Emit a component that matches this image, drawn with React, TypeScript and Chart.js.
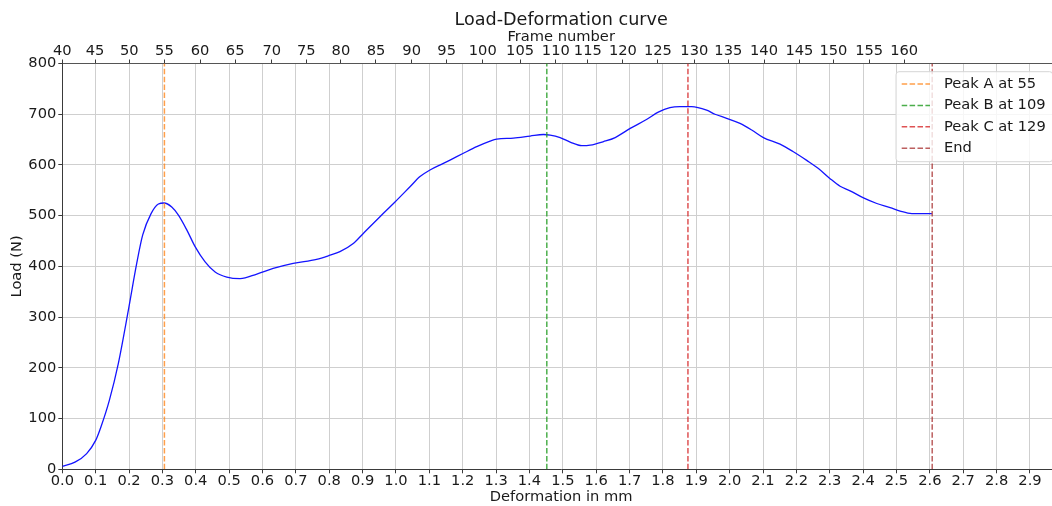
import { useEffect, useRef } from "react";
import { Chart, registerables } from "chart.js";

Chart.register(...registerables);

// Measured load-deformation curve
const deformation = [
  0.0, 0.038, 0.073, 0.1, 0.116, 0.141, 0.168, 0.198, 0.223, 0.241, 0.266, 0.288, 0.305, 0.328,
  0.348, 0.373, 0.398, 0.428, 0.458, 0.493, 0.533, 0.583, 0.632, 0.692, 0.762, 0.802, 0.832,
  0.872, 0.902, 0.952, 0.997, 1.042, 1.072, 1.102, 1.142, 1.172, 1.202, 1.242, 1.282, 1.302,
  1.352, 1.402, 1.442, 1.462, 1.492, 1.522, 1.557, 1.582, 1.622, 1.657, 1.702, 1.752, 1.786,
  1.821, 1.851, 1.886, 1.931, 1.956, 1.991, 2.031, 2.066, 2.101, 2.151, 2.191, 2.231, 2.266,
  2.301, 2.331, 2.361, 2.401, 2.441, 2.481, 2.511, 2.546, 2.606,
];
const load = [
  6, 14, 31, 57, 84, 136, 209, 314, 406, 462, 504, 523, 525, 517,
  501, 472, 439, 409, 389, 379, 376, 385, 396, 406, 414, 422, 429,
  445, 465, 498, 527, 557, 577, 590, 603, 613, 623, 636, 647, 651,
  653, 657, 660, 659, 654, 645, 638, 639, 646, 654, 672, 690, 704,
  713, 715, 715, 708, 700, 692, 682, 669, 654, 641, 626, 609, 593,
  573, 558, 549, 535, 524, 516, 509, 504, 504,
];

// Bottom axis ticks (mm)
const deformationTicks = [
  0.0, 0.1, 0.2, 0.3, 0.4, 0.5, 0.6, 0.7, 0.8, 0.9, 1.0, 1.1, 1.2, 1.3, 1.4,
  1.5, 1.6, 1.7, 1.8, 1.9, 2.0, 2.1, 2.2, 2.3, 2.4, 2.5, 2.6, 2.7, 2.8, 2.9,
];

// Top axis: frame numbers and the deformation at which each frame occurs
const frameTicks = [
  40, 45, 50, 55, 60, 65, 70, 75, 80, 85, 90, 95, 100, 105, 110, 115, 120, 125, 130, 135, 140,
  145, 150, 155, 160,
];
const frameTickDeformation = [
  0.0, 0.098, 0.201, 0.306, 0.413, 0.518, 0.628, 0.731, 0.835, 0.94, 1.047, 1.152, 1.26, 1.372,
  1.479, 1.575, 1.68, 1.785, 1.894, 1.996, 2.103, 2.209, 2.311, 2.418, 2.523,
];

// Marker lines
const peakLabels = ["Peak A at 55", "Peak B at 109", "Peak C at 129", "End"];
const peakDeformation = [0.306, 1.452, 1.875, 2.607];
const peakColors = [
  "rgba(255,127,14,0.75)",
  "rgba(44,160,44,0.85)",
  "rgba(214,39,40,0.8)",
  "rgba(165,42,42,0.75)",
];

const LOAD_MIN = 0;
const LOAD_MAX = 800;
const X_MIN = 0;
const X_MAX = 2.99;

const FONT = "'DejaVu Sans', sans-serif";
const BASE = 14.67;
const TEXT = "#1a1a1a";
const GRID = "#cfcfcf";
const SPINE = "#3a3a3a";
const DASH = [5.5, 2.4];

const titlePlugin = {
  id: "axesTitle",
  afterDraw(chart: any) {
    const { ctx, chartArea } = chart;
    ctx.save();
    ctx.font = `normal 17.6px ${FONT}`;
    ctx.fillStyle = TEXT;
    ctx.textAlign = "center";
    ctx.textBaseline = "middle";
    ctx.fillText("Load-Deformation curve", (chartArea.left + chartArea.right) / 2, 20);
    ctx.restore();
  },
};

const legendPlugin = {
  id: "boxLegend",
  afterDraw(chart: any) {
    const { ctx, chartArea } = chart;
    const right = chartArea.right - 7.3;
    const top = chartArea.top + 8.2;
    const left = right - 156.7;
    const bottom = top + 90;
    const r = 3;
    ctx.save();
    ctx.beginPath();
    ctx.moveTo(left + r, top);
    ctx.lineTo(right - r, top);
    ctx.arcTo(right, top, right, top + r, r);
    ctx.lineTo(right, bottom - r);
    ctx.arcTo(right, bottom, right - r, bottom, r);
    ctx.lineTo(left + r, bottom);
    ctx.arcTo(left, bottom, left, bottom - r, r);
    ctx.lineTo(left, top + r);
    ctx.arcTo(left, top, left + r, top, r);
    ctx.closePath();
    ctx.fillStyle = "rgba(255,255,255,0.8)";
    ctx.fill();
    ctx.strokeStyle = "#d6d6d6";
    ctx.lineWidth = 1;
    ctx.stroke();

    ctx.font = `normal ${BASE}px ${FONT}`;
    ctx.textAlign = "left";
    ctx.textBaseline = "middle";
    peakLabels.forEach((label, i) => {
      const y = top + 12.3 + i * 21.4;
      ctx.beginPath();
      ctx.setLineDash(DASH);
      ctx.strokeStyle = peakColors[i];
      ctx.lineWidth = 1.5;
      ctx.moveTo(left + 5.7, y);
      ctx.lineTo(left + 34, y);
      ctx.stroke();
      ctx.setLineDash([]);
      ctx.fillStyle = TEXT;
      ctx.fillText(label, left + 48, y);
    });
    ctx.restore();
  },
};

export default function App() {
  const canvasRef = useRef<HTMLCanvasElement | null>(null);

  useEffect(() => {
    const canvas = canvasRef.current;
    if (!canvas) return;

    const curve = deformation.map((x, i) => ({ x, y: load[i] }));
    const markers = peakLabels.map((label, i) => ({
      label,
      data: [
        { x: peakDeformation[i], y: LOAD_MIN },
        { x: peakDeformation[i], y: LOAD_MAX },
      ],
      borderColor: peakColors[i],
      borderWidth: 1.5,
      borderDash: DASH,
      pointRadius: 0,
      order: 1,
    }));

    const tickFont = { family: FONT, size: BASE, lineHeight: 1 };
    const titleFont = { family: FONT, size: BASE, lineHeight: 1 };

    const chart = new Chart(canvas, {
      type: "line",
      data: {
        datasets: [
          {
            label: "Load",
            data: curve,
            borderColor: "#1414ff",
            borderWidth: 1.3,
            pointRadius: 0,
            cubicInterpolationMode: "monotone",
            order: 2,
          },
          ...markers,
        ],
      },
      options: {
        animation: false,
        responsive: false,
        layout: { padding: { top: 28.8, left: 0, right: 0, bottom: 0 } },
        plugins: {
          legend: { display: false },
          title: { display: false },
          tooltip: { enabled: false },
        },
        scales: {
          x: {
            type: "linear",
            position: "bottom",
            min: X_MIN,
            max: X_MAX,
            afterBuildTicks: (s: any) => {
              s.ticks = deformationTicks.map((value) => ({ value }));
            },
            ticks: {
              autoSkip: false,
              maxRotation: 0,
              padding: 1,
              font: tickFont,
              color: TEXT,
              callback: (v: any) => Number(v).toFixed(1),
            },
            grid: { color: GRID, lineWidth: 1, tickLength: 4, tickColor: SPINE },
            border: { color: SPINE, width: 1 },
            title: {
              display: true,
              text: "Deformation in mm",
              font: titleFont,
              color: TEXT,
              padding: { top: 0, bottom: 1 },
            },
            afterFit: (s: any) => {
              s.height = 36.7;
            },
          },
          frames: {
            type: "linear",
            position: "top",
            min: X_MIN,
            max: X_MAX,
            afterBuildTicks: (s: any) => {
              s.ticks = frameTickDeformation.map((value) => ({ value }));
            },
            ticks: {
              autoSkip: false,
              maxRotation: 0,
              padding: 0.5,
              font: tickFont,
              color: TEXT,
              callback: (_v: any, i: number) => String(frameTicks[i]),
            },
            grid: { drawOnChartArea: false, tickLength: 4, tickColor: SPINE },
            border: { color: "#555555", width: 1 },
            title: {
              display: true,
              text: "Frame number",
              font: titleFont,
              color: TEXT,
              padding: { top: 0.7, bottom: 0 },
            },
            afterFit: (s: any) => {
              s.height = 34.7;
            },
          },
          y: {
            type: "linear",
            min: LOAD_MIN,
            max: LOAD_MAX,
            ticks: { stepSize: 100, padding: 2, font: tickFont, color: TEXT },
            grid: { color: GRID, lineWidth: 1, tickLength: 4, tickColor: SPINE },
            border: { color: SPINE, width: 1 },
            title: {
              display: true,
              text: "Load (N)",
              font: titleFont,
              color: TEXT,
              padding: { top: 9.6, bottom: 0 },
            },
            afterFit: (s: any) => {
              s.width = 62.3;
            },
          },
        },
      },
      plugins: [titlePlugin, legendPlugin],
    } as any);

    return () => chart.destroy();
  }, []);

  return (
    <div
      style={{
        position: "fixed",
        left: 0,
        top: 0,
        width: 1052,
        height: 506,
        overflow: "hidden",
        background: "#ffffff",
      }}
    >
      <canvas ref={canvasRef} width={1060} height={506} style={{ display: "block" }} />
    </div>
  );
}
